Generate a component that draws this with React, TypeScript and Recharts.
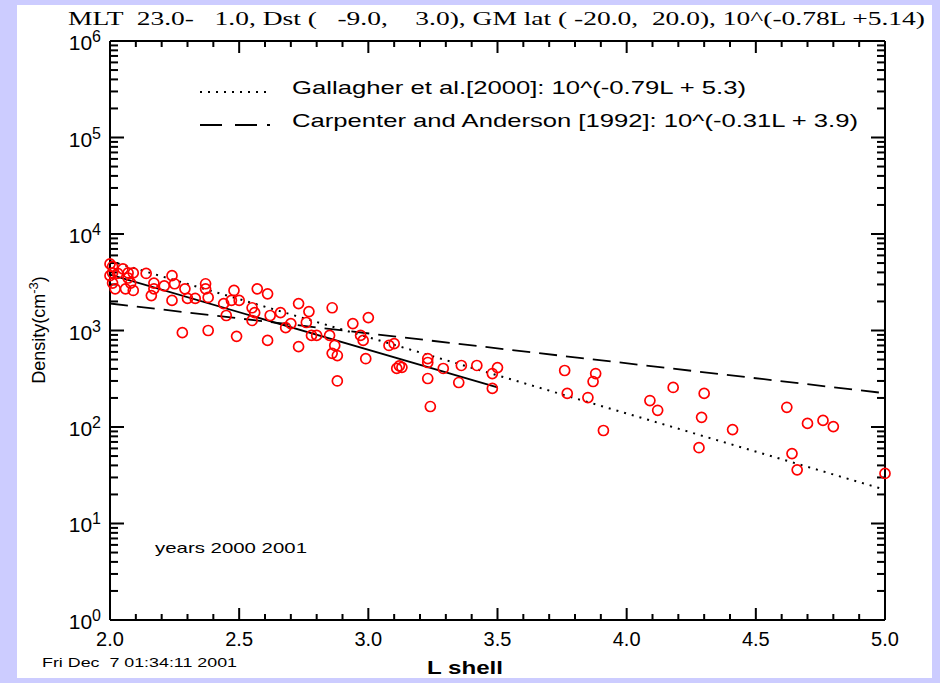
import React from 'react';
import { ComposedChart, XAxis, YAxis, Scatter, Line } from 'recharts';

// Observed plasmasphere densities versus L shell (cm^-3)
const observedL = [
  2.0, 2.01, 2.01, 2.0, 2.01, 2.02, 2.03, 2.05, 2.07, 2.07,
  2.09, 2.14, 2.06, 2.09, 2.08, 2.17, 2.16, 2.17, 2.21, 2.24,
  2.25, 2.24, 2.29, 2.3, 2.33, 2.37, 2.37, 2.38, 2.28, 2.38,
  2.48, 2.47, 2.5, 2.44, 2.45, 2.57, 2.61, 2.55, 2.56, 2.55,
  2.62, 2.66, 2.73, 2.77, 2.76, 2.78, 2.8, 2.68, 2.7, 2.49,
  2.61, 2.73, 2.86, 2.85, 2.87, 2.86, 2.88, 2.94, 3.0, 2.97,
  2.98, 2.99, 3.08, 3.1, 3.12, 3.11, 3.13, 2.88, 3.23, 3.23,
  3.23, 3.29, 3.35, 3.36, 3.42, 3.5, 3.48, 3.48, 3.24, 3.76,
  3.88, 3.87, 3.77, 3.85, 3.91, 4.09, 4.12, 4.18, 4.3, 4.29,
  4.41, 4.28, 4.62, 4.7, 4.76, 4.8, 4.64, 4.66, 5.0,
];
const observedDensity = [
  4900, 4600, 3950, 3700, 3100, 2700, 3900, 4350, 3950, 3500,
  3950, 3900, 2700, 2600, 3100, 3100, 2300, 2700, 2900, 3700,
  3050, 2050, 2700, 2150, 2150, 3050, 2700, 2200, 950, 1000,
  2600, 2050, 2050, 1900, 1430, 2700, 2400, 1720, 1530, 1270,
  1430, 1530, 1900, 1570, 1210, 890, 890, 1070, 1180, 870,
  790, 680, 1720, 890, 700, 580, 550, 1180, 1360, 890,
  790, 510, 700, 730, 430, 405, 415, 300, 512, 466,
  318, 404, 289, 434, 434, 413, 358, 251, 163, 385,
  358, 296, 223, 202, 92, 188, 149, 257, 223, 126,
  94, 61, 160, 109, 117, 101, 53, 36, 33,
];

// Empirical models: Gallagher et al. [2000] and Carpenter & Anderson [1992]
const gallagherL = [2.0, 5.0];
const gallagherDensity = [5248, 22.4];
const carpenterL = [2.0, 5.0];
const carpenterDensity = [1905, 224];
// Least-squares fit 10^(-0.78L + 5.14) over 2.0 <= L <= 3.5
const fitL = [2.0, 3.5];
const fitDensity = [3802, 257];

const lShellTicks = [2.0, 2.5, 3.0, 3.5, 4.0, 4.5, 5.0];
const lShellMinorTicks = [
  2.1, 2.2, 2.3, 2.4, 2.6, 2.7, 2.8, 2.9, 3.1, 3.2, 3.3, 3.4,
  3.6, 3.7, 3.8, 3.9, 4.1, 4.2, 4.3, 4.4, 4.6, 4.7, 4.8, 4.9,
];
const densityDecades = [1, 10, 100, 1000, 10000, 100000, 1000000];
const minorMultipliers = [2, 3, 4, 5, 6, 7, 8, 9];
const densityMinorTicks = densityDecades
  .slice(0, -1)
  .flatMap((d) => minorMultipliers.map((m) => m * d));

const L_MIN = 2;
const L_MAX = 5;
const N_MIN = 1;
const N_MAX = 1000000;

const zip = (ls: number[], ns: number[]) => ls.map((L, i) => ({ L, n: ns[i] }));
const observations = zip(observedL, observedDensity);
const gallagher = zip(gallagherL, gallagherDensity);
const carpenter = zip(carpenterL, carpenterDensity);
const fit = zip(fitL, fitDensity);

// anchor points of the inward frame ticks, placed on the four sides of the box
const atL = (ls: number[], n: number) => ls.map((L) => ({ L, n }));
const atN = (ns: number[], L: number) => ns.map((n) => ({ L, n }));

const SANS = "'Liberation Sans', Arial, sans-serif";
const SERIF = "'Liberation Serif', 'Times New Roman', serif";
const TICK_W = 2;

// tick glyph: a short bar pointing into the plot box
const TickMark = (props: any) => {
  const { cx, cy, len, dir } = props;
  if (typeof cx !== 'number' || typeof cy !== 'number') return <g />;
  if (dir === 'up') return <rect x={cx - TICK_W / 2} y={cy - len} width={TICK_W} height={len} fill="#000" />;
  if (dir === 'down') return <rect x={cx - TICK_W / 2} y={cy} width={TICK_W} height={len} fill="#000" />;
  if (dir === 'right') return <rect x={cx} y={cy - TICK_W / 2} width={len} height={TICK_W} fill="#000" />;
  return <rect x={cx - len} y={cy - TICK_W / 2} width={len} height={TICK_W} fill="#000" />;
};

const tickSeries = [
  { id: 'bottom-major', data: atL(lShellTicks, N_MIN), len: 12, dir: 'up' },
  { id: 'bottom-minor', data: atL(lShellMinorTicks, N_MIN), len: 6, dir: 'up' },
  { id: 'top-major', data: atL(lShellTicks, N_MAX), len: 12, dir: 'down' },
  { id: 'top-minor', data: atL(lShellMinorTicks, N_MAX), len: 6, dir: 'down' },
  { id: 'left-major', data: atN(densityDecades, L_MIN), len: 14, dir: 'right' },
  { id: 'left-minor', data: atN(densityMinorTicks, L_MIN), len: 8, dir: 'right' },
  { id: 'right-major', data: atN(densityDecades, L_MAX), len: 14, dir: 'left' },
  { id: 'right-minor', data: atN(densityMinorTicks, L_MAX), len: 8, dir: 'left' },
];

const LShellLabel = (props: any) => {
  const x = Number(props.x);
  const y = Number(props.y);
  return (
    <text x={x} y={y + 26} textAnchor="middle" fontFamily={SANS} fontSize={20} fill="#000">
      {Number(props.payload.value).toFixed(1)}
    </text>
  );
};

const DecadeLabel = (props: any) => {
  const x = Number(props.x);
  const y = Number(props.y);
  const exp = Math.round(Math.log10(props.payload.value));
  return (
    <text x={x - 9} y={y + 9} textAnchor="end" fontFamily={SANS} fontSize={21} fill="#000">
      10
      <tspan dy={-8} fontSize={16}>
        {exp}
      </tspan>
    </text>
  );
};

const OpenCircle = (props: any) => {
  const { cx, cy } = props;
  if (typeof cx !== 'number' || typeof cy !== 'number') return <g />;
  return <circle cx={cx} cy={cy} r={5} fill="none" stroke="#ff0000" strokeWidth={1.7} />;
};

const axisLine = { stroke: '#000', strokeWidth: 2 };
// axes share the plot frame, so they take (almost) no room of their own
const THIN = 0.001;

const xCommon = {
  type: 'number' as const,
  dataKey: 'L',
  domain: [L_MIN, L_MAX] as [number, number],
  interval: 0 as const,
  height: THIN,
  tickSize: 0,
  tickMargin: 0,
  tickLine: false,
  ticks: lShellTicks,
  axisLine,
};

const yCommon = {
  type: 'number' as const,
  scale: 'log' as const,
  dataKey: 'n',
  domain: [N_MIN, N_MAX] as [number, number],
  interval: 0 as const,
  width: THIN,
  tickSize: 0,
  tickMargin: 0,
  tickLine: false,
  ticks: densityDecades,
  axisLine,
};

export default function App() {
  return (
    <div
      style={{
        position: 'absolute',
        left: 0,
        top: 0,
        width: 940,
        height: 683,
        background: '#ccccff',
        overflow: 'hidden',
      }}
    >
      <div
        style={{
          position: 'absolute',
          left: 17,
          top: 5,
          width: 915,
          height: 673,
          background: '#ffffff',
        }}
      />
      <div style={{ position: 'absolute', left: 0, top: 0 }}>
        <ComposedChart width={940} height={683} margin={{ top: 41, right: 55, bottom: 63, left: 110 }}>
          <XAxis {...xCommon} xAxisId="xb" orientation="bottom" tick={LShellLabel} />
          <XAxis {...xCommon} xAxisId="xt" orientation="top" tick={false} />
          <YAxis {...yCommon} yAxisId="yl" orientation="left" tick={DecadeLabel} />
          <YAxis {...yCommon} yAxisId="yr" orientation="right" tick={false} />

          {tickSeries.map((s) => (
            <Scatter
              key={s.id}
              name={s.id}
              xAxisId="xb"
              yAxisId="yl"
              data={s.data}
              dataKey="n"
              fill="#000"
              shape={<TickMark len={s.len} dir={s.dir} />}
              isAnimationActive={false}
            />
          ))}

          <Line
            xAxisId="xb"
            yAxisId="yl"
            data={carpenter}
            dataKey="n"
            type="linear"
            stroke="#000"
            strokeWidth={1.8}
            strokeDasharray="18 9"
            dot={false}
            isAnimationActive={false}
          />
          <Line
            xAxisId="xb"
            yAxisId="yl"
            data={gallagher}
            dataKey="n"
            type="linear"
            stroke="#000"
            strokeWidth={2}
            strokeDasharray="2 6"
            dot={false}
            isAnimationActive={false}
          />
          <Scatter
            xAxisId="xb"
            yAxisId="yl"
            data={observations}
            dataKey="n"
            shape={<OpenCircle />}
            isAnimationActive={false}
          />
          <Line
            xAxisId="xb"
            yAxisId="yl"
            data={fit}
            dataKey="n"
            type="linear"
            stroke="#000"
            strokeWidth={1.8}
            dot={false}
            isAnimationActive={false}
          />
        </ComposedChart>
      </div>

      <svg
        width={940}
        height={683}
        style={{ position: 'absolute', left: 0, top: 0, pointerEvents: 'none' }}
      >
        <text
          x={68}
          y={25}
          fontFamily={SERIF}
          fontSize={18}
          textLength={857}
          lengthAdjust="spacingAndGlyphs"
          style={{ whiteSpace: 'pre' }}
          fill="#000"
        >
          {'MLT  23.0-   1.0, Dst (   -9.0,    3.0), GM lat ( -20.0,  20.0), 10^(-0.78L +5.14)'}
        </text>

        <line x1={200} y1={92} x2={272} y2={92} stroke="#000" strokeWidth={2} strokeDasharray="2 6" />
        <text x={292} y={94} fontFamily={SANS} fontSize={19} textLength={454} lengthAdjust="spacingAndGlyphs" fill="#000">
          Gallagher et al.[2000]: 10^(-0.79L + 5.3)
        </text>
        <line
          x1={200}
          y1={125}
          x2={272}
          y2={125}
          stroke="#000"
          strokeWidth={2}
          strokeDasharray="22 13 22 10 3 100"
        />
        <text x={292} y={127} fontFamily={SANS} fontSize={19} textLength={566} lengthAdjust="spacingAndGlyphs" fill="#000">
          Carpenter and Anderson [1992]: 10^(-0.31L + 3.9)
        </text>

        <text x={155} y={553} fontFamily={SANS} fontSize={15} textLength={152} lengthAdjust="spacingAndGlyphs" fill="#000">
          years 2000 2001
        </text>

        <text
          x={42}
          y={667}
          fontFamily={SANS}
          fontSize={12.5}
          textLength={195}
          lengthAdjust="spacingAndGlyphs"
          style={{ whiteSpace: 'pre' }}
          fill="#000"
        >
          {'Fri Dec  7 01:34:11 2001'}
        </text>

        <text x={427} y={674} fontFamily={SANS} fontSize={19} fontWeight="bold" textLength={76} lengthAdjust="spacingAndGlyphs" fill="#000">
          L shell
        </text>

        <g transform="translate(45,330) rotate(-90)">
          <text x={0} y={0} textAnchor="middle" fontFamily={SANS} fontSize={18} fill="#000">
            Density(cm
            <tspan dy={-7} fontSize={13}>
              -3
            </tspan>
            <tspan dy={7}>)</tspan>
          </text>
        </g>
      </svg>
    </div>
  );
}
